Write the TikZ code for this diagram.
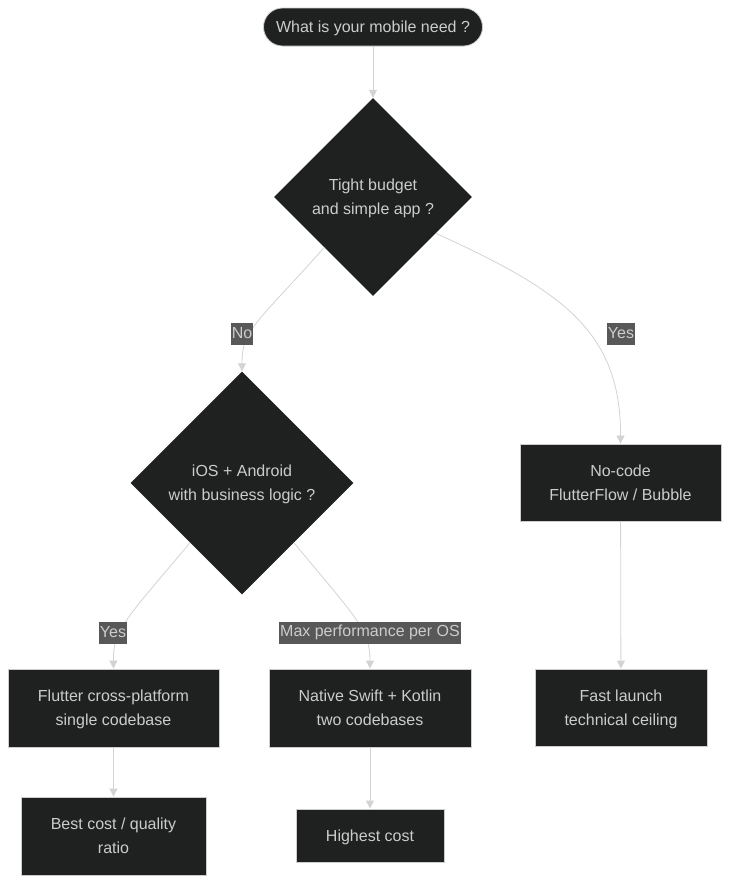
\documentclass[tikz,border=0pt]{standalone}
\usepackage{fontspec}
\setmainfont{Liberation Sans}
\usetikzlibrary{shapes.geometric,arrows.meta}
\definecolor{nodefill}{HTML}{1F2020}
\definecolor{nodeline}{HTML}{CCCCCC}
\definecolor{txt}{HTML}{CCCCCC}
\definecolor{edge}{HTML}{D3D3D3}
\definecolor{lblbg}{HTML}{585858}
\tikzset{
  base/.style={fill=nodefill, text=txt, font=\fontsize{16}{24}\selectfont, align=center, inner sep=0pt, text depth=0pt},
  boxnode/.style={base, draw=nodeline, line width=0.8pt, rectangle},
  startnode/.style={base, draw=nodeline, line width=0.8pt, rounded corners=19pt, minimum width=219pt, minimum height=38pt},
  decision/.style={base, diamond, aspect=1},
  conn/.style={draw=edge, line width=0.8pt, -{Triangle[length=8pt,width=8pt]}},
  lbl/.style={fill=lblbg, text=txt, font=\fontsize{16}{19}\selectfont, inner xsep=1pt, inner ysep=0pt, minimum height=22pt}
}
\begin{document}
\begin{tikzpicture}[x=1pt,y=-1pt]
\useasboundingbox (0,0) rectangle (731,884);
\node[startnode] (start) at (373,27) {What is your mobile need ?};
\node[decision, minimum size=198pt] (d1) at (373,197) {Tight budget\\and simple app ?};
\node[decision, minimum size=223pt] (d2) at (242,483) {iOS + Android\\with business logic ?};
\node[boxnode, minimum width=201pt, minimum height=77pt] (nocode) at (620.5,482.5) {No-code\\FlutterFlow / Bubble};
\node[boxnode, minimum width=172pt, minimum height=77pt] (fast) at (621,707.5) {Fast launch\\technical ceiling};
\node[boxnode, minimum width=211pt, minimum height=78pt] (flutter) at (113.5,708) {Flutter cross-platform\\single codebase};
\node[boxnode, minimum width=202pt, minimum height=78pt] (native) at (370,708) {Native Swift + Kotlin\\two codebases};
\node[boxnode, minimum width=185pt, minimum height=78pt] (best) at (113.5,836) {Best cost / quality\\ratio};
\node[boxnode, minimum width=148pt, minimum height=53pt] (highest) at (370,835.5) {Highest cost};

\draw[conn] (start) -- (d1);
\draw[conn] (d1.226) .. controls (255,325) and (242,330) .. (d2.north);
\draw[conn] (d1.-30) .. controls (560,290) and (621,330) .. (nocode.north);
\draw[conn] (d2.229) .. controls (125,620) and (113,630) .. (flutter.north);
\draw[conn] (d2.-49) .. controls (358,620) and (370,630) .. (native.north);
\draw[conn] (nocode) -- (fast);
\draw[conn] (flutter) -- (best);
\draw[conn] (native) -- (highest);

\node[lbl] (lno) at (242,333.5) {No};
\node[lbl] (lyes1) at (621,333.5) {Yes};
\node[lbl] (lyes2) at (113,632.5) {Yes};
\node[lbl] (lmax) at (370,632.5) {Max performance per OS};
\end{tikzpicture}
\end{document}
